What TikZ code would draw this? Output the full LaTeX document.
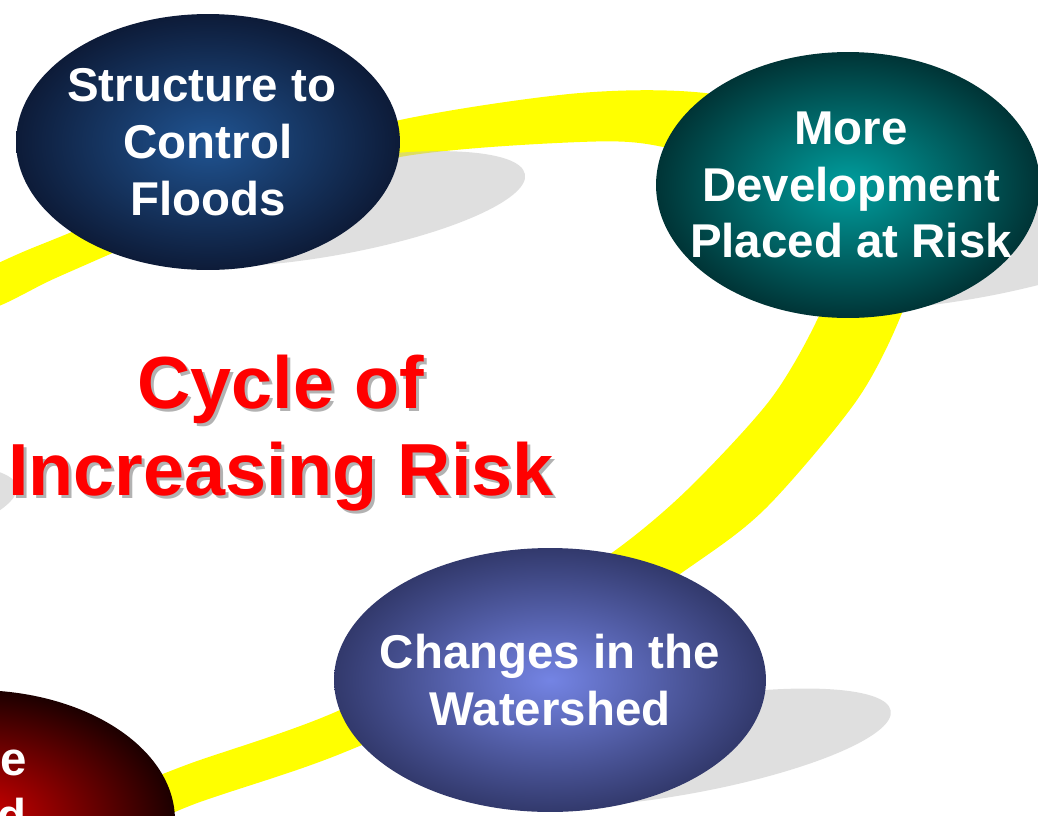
\documentclass[tikz,border=0pt]{standalone}
\usepackage{fontspec}
\setmainfont{Liberation Sans}
\usetikzlibrary{shapes.geometric}
\definecolor{band}{RGB}{255,255,0}
\definecolor{floodsin}{RGB}{32,84,146}
\definecolor{floodsout}{RGB}{13,27,56}
\definecolor{developin}{RGB}{0,158,158}
\definecolor{developout}{RGB}{0,52,54}
\definecolor{shedin}{RGB}{116,132,228}
\definecolor{shedout}{RGB}{50,57,108}
\definecolor{riskin}{RGB}{215,0,0}
\definecolor{riskout}{RGB}{28,0,0}
\definecolor{titlered}{RGB}{255,0,0}
\tikzset{
	bubble/.style={ellipse, inner sep=0pt, shading=radial},
	bubbletext/.style={text=white, align=center, inner sep=0pt, font=\bfseries\fontsize{27}{32.3}\selectfont},
	shadowblob/.style={fill=black!25, fill opacity=0.5},
	titletext/.style={align=center, inner sep=0pt, font=\bfseries\fontsize{42}{50}\selectfont}
}
\begin{document}
\begin{tikzpicture}[x=0.02cm, y=-0.02cm]
		\useasboundingbox (0, 0) rectangle (1038, 815);
		\begin{scope}
		\clip (0, 0) rectangle (1038, 815);
		% the ring
		\fill[band, even odd rule] plot[smooth cycle] coordinates {(-330, 600) (-200, 360) (-8, 266) (67, 234) (230, 168) (400, 120) (580, 93) (713, 94) (850, 130) (925, 230) (902, 313) (857, 400) (767, 507) (690, 567) (540, 665) (340, 754) (200, 802) (40, 860) (-200, 860)}
			plot[smooth cycle] coordinates {(-260, 600) (-150, 380) (8, 302) (67, 273) (230, 205) (400, 157) (580, 142) (663, 147) (780, 185) (845, 240) (818, 318) (770, 400) (687, 490) (613, 552) (500, 625) (340, 710) (200, 760) (40, 812) (-160, 800)};
		\foreach \x/\y/\r in {328/209/200, 968/252/205, 679/748/215, -190/523/210}{
			\fill[shadowblob, rotate around={10:(\x, \y)}] (\x, \y) ellipse ({\r} and 47);}
		% bubbles
		\node[bubble, minimum width=7.68cm, minimum height=5.12cm, inner color=floodsin, outer color=floodsout] (floods) at (208, 142) {};
		\node[bubble, minimum width=7.68cm, minimum height=5.32cm, inner color=developin, outer color=developout] (develop) at (848, 185) {};
		\node[bubble, minimum width=8.64cm, minimum height=5.28cm, inner color=shedin, outer color=shedout] (watershed) at (550, 680) {};
		\node[bubble, minimum width=8cm, minimum height=5.2cm, inner color=riskin, outer color=riskout] (damage) at (-25, 820) {};
		\node[bubbletext] (floodstext) at (floods) {Structure to\kern0.25cm\\Control\\Floods};
		\node[bubbletext] (developtext) at (851, 185) {More\\Development\\Placed at Risk};
		\node[bubbletext] (watershedtext) at (watershed) {Changes in the\\Watershed};
		\node[bubbletext, anchor=north east, align=right] (damagetext) at (27, 750) {e\\d};
		% title
		\node[titletext, text=black!30] (titleshadow) at (284, 436) {Cycle of\\Increasing Risk};
		\node[titletext, text=titlered] (title) at (281, 433) {Cycle of\\Increasing Risk};
		\end{scope}
\end{tikzpicture}
\end{document}
